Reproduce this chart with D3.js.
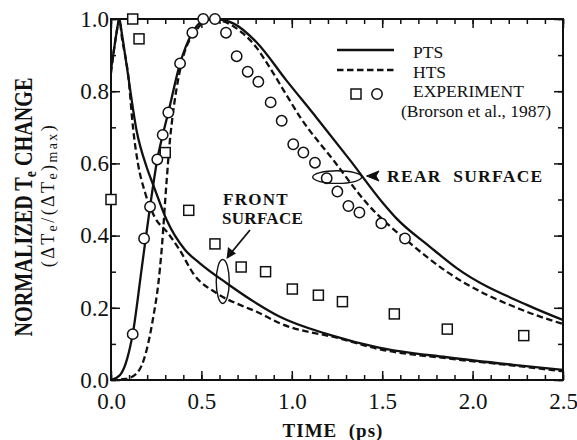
<!DOCTYPE html>
<html>
<head>
<meta charset="utf-8">
<script src="https://cdn.jsdelivr.net/npm/d3@7"></script>
<style>
  html, body { margin: 0; padding: 0; background: #fff; }
  svg { display: block; }
  svg text { fill: #111; }
</style>
</head>
<body>
<svg id="chart" width="577" height="440"></svg>
<script>
// Normalized electron temperature change vs. time, [time (ps), value]
const frontPTS = [
  [0, 0.86], [0.015, 0.91], [0.03, 0.96], [0.046, 1.0], [0.06, 0.96],
  [0.087, 0.87], [0.142, 0.69], [0.197, 0.59], [0.234, 0.54], [0.308, 0.443],
  [0.41, 0.36], [0.49, 0.324], [0.64, 0.268], [0.806, 0.212], [0.934, 0.175],
  [1.21, 0.125], [1.488, 0.089], [1.857, 0.063], [2.225, 0.042], [2.5, 0.028]
];
const frontHTS = [
  [0, 0.85], [0.015, 0.91], [0.03, 0.96], [0.046, 1.0], [0.06, 0.95],
  [0.096, 0.84], [0.123, 0.693], [0.149, 0.60], [0.188, 0.52], [0.243, 0.45],
  [0.31, 0.41], [0.38, 0.36], [0.455, 0.295], [0.585, 0.24], [0.713, 0.208],
  [0.806, 0.189], [0.934, 0.157], [1.266, 0.115], [1.488, 0.085], [1.857, 0.06],
  [2.225, 0.04], [2.5, 0.024]
];
const rearPTS = [
  [0, 0], [0.05, 0.014], [0.09, 0.06], [0.12, 0.127], [0.17, 0.31],
  [0.216, 0.48], [0.256, 0.611], [0.286, 0.679], [0.317, 0.741], [0.382, 0.877],
  [0.45, 0.962], [0.51, 0.995], [0.57, 1.0], [0.676, 0.988], [0.806, 0.935],
  [0.97, 0.83], [1.138, 0.726], [1.322, 0.609], [1.506, 0.489], [1.58, 0.447],
  [1.764, 0.369], [1.912, 0.31], [2.30, 0.208], [2.5, 0.166]
];
const rearHTS = [
  [0, 0], [0.08, 0.003], [0.142, 0.018], [0.197, 0.083], [0.234, 0.175],
  [0.262, 0.268], [0.28, 0.36], [0.308, 0.554], [0.326, 0.665], [0.336, 0.711],
  [0.39, 0.877], [0.474, 0.97], [0.55, 1.0], [0.73, 0.96], [0.806, 0.92],
  [0.86, 0.88], [0.97, 0.79], [1.045, 0.729], [1.23, 0.609], [1.414, 0.49],
  [1.654, 0.379], [1.857, 0.3], [2.30, 0.189], [2.5, 0.155]
];
// Experimental points (Brorson et al., 1987)
const frontExp = [
  [0.0, 0.50], [0.12, 1.0], [0.155, 0.945], [0.30, 0.63], [0.43, 0.47],
  [0.575, 0.377], [0.72, 0.313], [0.855, 0.30], [1.003, 0.252], [1.147, 0.235],
  [1.28, 0.217], [1.567, 0.183], [1.86, 0.141], [2.283, 0.123]
];
const rearExp = [
  [0.12, 0.127], [0.183, 0.392], [0.216, 0.48], [0.256, 0.611], [0.286, 0.679],
  [0.317, 0.741], [0.382, 0.877], [0.45, 0.962], [0.51, 1.0], [0.575, 1.0],
  [0.636, 0.962], [0.695, 0.897], [0.756, 0.854], [0.815, 0.826], [0.883, 0.769],
  [0.944, 0.718], [1.008, 0.653], [1.064, 0.630], [1.128, 0.602], [1.193, 0.559],
  [1.252, 0.522], [1.313, 0.482], [1.374, 0.464], [1.495, 0.434], [1.626, 0.392]
];
const xMajor = [0, 0.5, 1.0, 1.5, 2.0, 2.5];
const yMajor = [0, 0.2, 0.4, 0.6, 0.8, 1.0];
const xMinor = d3.range(0, 2.51, 0.1);
const yMinor = d3.range(0, 1.01, 0.1);

const SERIF = '"Liberation Serif", "Times New Roman", Times, serif';
const svg = d3.select("#chart").style("font-family", SERIF);
const x = d3.scaleLinear().domain([0, 2.5]).range([111, 563]);
const y = d3.scaleLinear().domain([0, 1]).range([380, 19]);

svg.append("defs").append("clipPath").attr("id", "plot")
  .append("rect")
  .attr("x", x(0)).attr("y", y(1))
  .attr("width", x(2.5) - x(0)).attr("height", y(0) - y(1));

// Axes: ticks drawn inward on all four sides
function styleAxis(g) {
  g.attr("font-family", null).style("font-family", SERIF);
  g.select(".domain").remove();
  g.selectAll(".tick line").attr("stroke", "#111").attr("stroke-width", 1.5);
  g.selectAll("text").attr("font-size", 23).attr("fill", "#111");
}
const fmt = d3.format(".1f");
svg.append("g").attr("transform", `translate(0,${y(0)})`)
  .call(d3.axisBottom(x).tickValues(xMinor).tickSize(-5).tickFormat(""))
  .call(styleAxis);
svg.append("g").attr("transform", `translate(0,${y(0)})`)
  .call(d3.axisBottom(x).tickValues(xMajor).tickSize(-9).tickPadding(13).tickFormat(fmt))
  .call(styleAxis);
svg.append("g").attr("transform", `translate(0,${y(1)})`)
  .call(d3.axisTop(x).tickValues(xMinor).tickSize(-5).tickFormat(""))
  .call(styleAxis);
svg.append("g").attr("transform", `translate(0,${y(1)})`)
  .call(d3.axisTop(x).tickValues(xMajor).tickSize(-9).tickFormat(""))
  .call(styleAxis);
svg.append("g").attr("transform", `translate(${x(0)},0)`)
  .call(d3.axisLeft(y).tickValues(yMinor).tickSize(-5).tickFormat(""))
  .call(styleAxis);
svg.append("g").attr("transform", `translate(${x(0)},0)`)
  .call(d3.axisLeft(y).tickValues(yMajor).tickSize(-9).tickPadding(2).tickFormat(fmt))
  .call(styleAxis);
svg.append("g").attr("transform", `translate(${x(2.5)},0)`)
  .call(d3.axisRight(y).tickValues(yMinor).tickSize(-5).tickFormat(""))
  .call(styleAxis);
svg.append("g").attr("transform", `translate(${x(2.5)},0)`)
  .call(d3.axisRight(y).tickValues(yMajor).tickSize(-9).tickFormat(""))
  .call(styleAxis);

svg.append("rect")
  .attr("x", x(0)).attr("y", y(1))
  .attr("width", x(2.5) - x(0)).attr("height", y(0) - y(1))
  .attr("fill", "none").attr("stroke", "#111").attr("stroke-width", 2);

// Model curves
const line = d3.line().x(d => x(d[0])).y(d => y(d[1])).curve(d3.curveMonotoneX);
const curves = svg.append("g").attr("clip-path", "url(#plot)");
[[frontPTS, null], [rearPTS, null], [frontHTS, "6.5,3.5"], [rearHTS, "6.5,3.5"]]
  .forEach(([data, dash]) => {
    curves.append("path").datum(data)
      .attr("d", line)
      .attr("fill", "none")
      .attr("stroke", "#111")
      .attr("stroke-width", 2.3)
      .attr("stroke-dasharray", dash);
  });

// Experimental markers
svg.append("g").selectAll("rect").data(frontExp).join("rect")
  .attr("x", d => x(d[0]) - 5).attr("y", d => y(d[1]) - 5)
  .attr("width", 10).attr("height", 10)
  .attr("fill", "#fff").attr("stroke", "#111").attr("stroke-width", 1.5);
svg.append("g").selectAll("circle").data(rearExp).join("circle")
  .attr("cx", d => x(d[0])).attr("cy", d => y(d[1])).attr("r", 5.2)
  .attr("fill", "#fff").attr("stroke", "#111").attr("stroke-width", 1.5);

// Legend
const leg = svg.append("g");
leg.append("line").attr("x1", 337).attr("x2", 394).attr("y1", 50).attr("y2", 50)
  .attr("stroke", "#111").attr("stroke-width", 2.3);
leg.append("line").attr("x1", 337).attr("x2", 394).attr("y1", 70).attr("y2", 70)
  .attr("stroke", "#111").attr("stroke-width", 2.3).attr("stroke-dasharray", "6.5,3.5");
leg.append("rect").attr("x", 351).attr("y", 89).attr("width", 10).attr("height", 10)
  .attr("fill", "#fff").attr("stroke", "#111").attr("stroke-width", 1.5);
leg.append("circle").attr("cx", 377).attr("cy", 94).attr("r", 5.2)
  .attr("fill", "#fff").attr("stroke", "#111").attr("stroke-width", 1.5);
const legText = [["PTS", 413, 58], ["HTS", 413, 78], ["EXPERIMENT", 413, 97], ["(Brorson et al., 1987)", 401, 117]];
leg.selectAll("text").data(legText).join("text")
  .attr("x", d => d[1]).attr("y", d => d[2])
  .attr("font-size", 17.5)
  .text(d => d[0]);

// Annotations
const ann = svg.append("g");
ann.append("ellipse")
  .attr("cx", x(0.618)).attr("cy", y(0.273)).attr("rx", 6.5).attr("ry", 22)
  .attr("fill", "none").attr("stroke", "#111").attr("stroke-width", 1.4);
ann.append("line")
  .attr("x1", 250).attr("y1", 230).attr("x2", 231).attr("y2", 253)
  .attr("stroke", "#111").attr("stroke-width", 1.8);
ann.append("path")
  .attr("d", "M226.5,259 L228,247 L236,253.5 Z").attr("fill", "#111");
ann.append("text").attr("x", 223).attr("y", 205)
  .attr("font-size", 17).attr("font-weight", "bold").attr("letter-spacing", 1.3)
  .text("FRONT");
ann.append("text").attr("x", 222).attr("y", 224)
  .attr("font-size", 17).attr("font-weight", "bold").attr("letter-spacing", 0.3)
  .text("SURFACE");

ann.append("ellipse")
  .attr("cx", x(1.251)).attr("cy", y(0.562)).attr("rx", 24.5).attr("ry", 6.3)
  .attr("fill", "none").attr("stroke", "#111").attr("stroke-width", 1.4);
ann.append("path")
  .attr("d", "M366.5,176 L379,171 L376,176 L379,181 Z").attr("fill", "#111")
  .attr("stroke", "#111").attr("stroke-width", 1);
ann.append("text").attr("x", 387).attr("y", 182)
  .attr("font-size", 17.5).attr("font-weight", "bold").attr("letter-spacing", 1.3)
  .style("white-space", "pre")
  .text("REAR  SURFACE");

// Axis titles
svg.append("text").attr("x", 333).attr("y", 437)
  .attr("text-anchor", "middle").attr("font-size", 19).attr("font-weight", "bold")
  .attr("letter-spacing", 1).style("white-space", "pre")
  .text("TIME  (ps)");

const yt1 = svg.append("text")
  .attr("transform", "translate(32,207) rotate(-90)")
  .attr("text-anchor", "middle").attr("font-size", 25).attr("font-weight", "bold")
  .attr("textLength", 259).attr("lengthAdjust", "spacingAndGlyphs");
yt1.append("tspan").text("NORMALIZED T");
yt1.append("tspan").attr("font-size", 17).attr("dy", 4).text("e");
yt1.append("tspan").attr("dy", -4).text(" CHANGE");

const yt2 = svg.append("text")
  .attr("transform", "translate(54,195) rotate(-90)")
  .attr("text-anchor", "middle").attr("font-size", 18).attr("letter-spacing", 2.4);
yt2.append("tspan").text("(\u0394T");
yt2.append("tspan").attr("font-size", 14).attr("dy", 3).text("e");
yt2.append("tspan").attr("dy", -3).text("/(\u0394T");
yt2.append("tspan").attr("font-size", 14).attr("dy", 3).text("e");
yt2.append("tspan").attr("dy", -3).text(")");
yt2.append("tspan").attr("font-size", 14).attr("dy", 3).text("max");
yt2.append("tspan").attr("dy", -3).text(")");
</script>
</body>
</html>
